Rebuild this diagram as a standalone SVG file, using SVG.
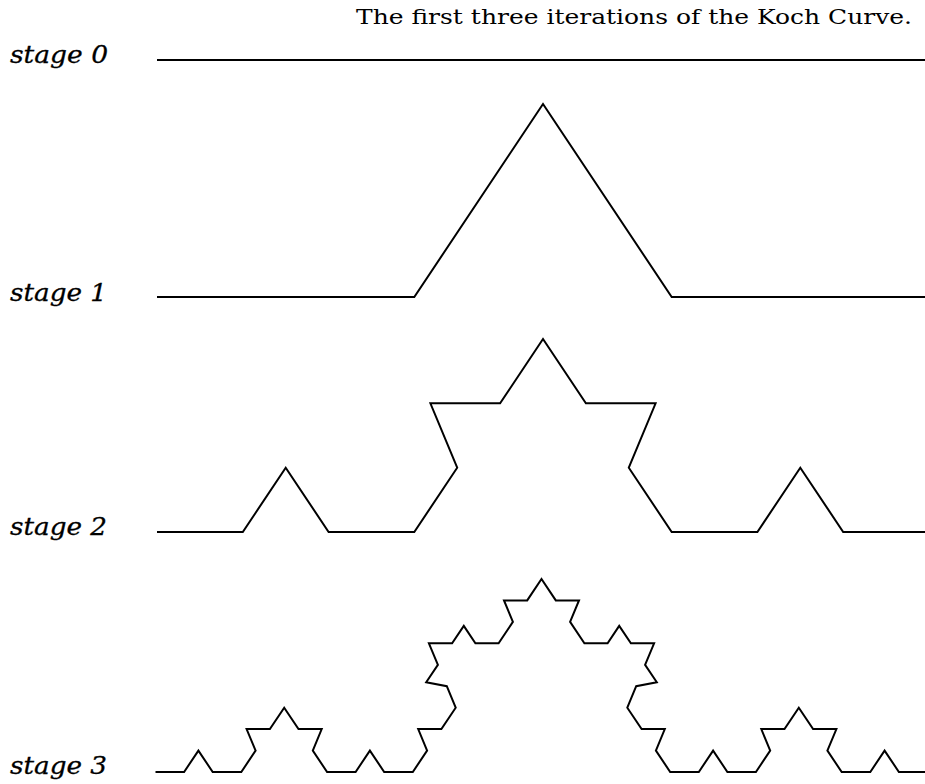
<svg xmlns="http://www.w3.org/2000/svg" width="925" height="784" viewBox="0 0 925 784">
<style>
.lbl{font-family:"DejaVu Serif","Liberation Serif",serif;font-style:italic;font-size:25px;fill:#000;stroke:#000;stroke-width:0.3}
.ttl{font-family:"DejaVu Serif","Liberation Serif",serif;font-size:21px;fill:#000}
.crv{fill:none;stroke:#000;stroke-width:2;stroke-linejoin:miter}
</style>
<rect width="925" height="784" fill="#fff"/>
<text class="ttl" x="356" y="24" textLength="556" lengthAdjust="spacingAndGlyphs">The first three iterations of the Koch Curve.</text>
<g id="stage0">
<text class="lbl" x="10" y="63" textLength="98" lengthAdjust="spacingAndGlyphs">stage 0</text>
<polyline class="crv" points="157,60 929,60"/>
</g>
<g id="stage1">
<text class="lbl" x="10" y="301" textLength="97" lengthAdjust="spacingAndGlyphs">stage 1</text>
<polyline class="crv" points="157,297 414.3,297 543,104 671.7,297 929,297"/>
</g>
<g id="stage2">
<text class="lbl" x="10" y="535" textLength="97" lengthAdjust="spacingAndGlyphs">stage 2</text>
<polyline class="crv" points="157,532 242.8,532 285.7,467.7 328.6,532 414.3,532 457.2,467.7 430.4,403.3 500.1,403.3 543,339 585.9,403.3 655.6,403.3 628.8,467.7 671.7,532 757.4,532 800.3,467.7 843.2,532 929,532"/>
</g>
<g id="stage3">
<text class="lbl" x="10" y="774" textLength="97" lengthAdjust="spacingAndGlyphs">stage 3</text>
<polyline class="crv" transform="translate(-1.5,0)" points="157,772 185.6,772 199.9,750.6 214.2,772 242.8,772 257.1,750.6 248.1,729.1 271.4,729.1 285.7,707.7 300,729.1 323.2,729.1 314.3,750.6 328.6,772 357.1,772 371.4,750.6 385.7,772 414.3,772 428.6,750.6 419.7,729.1 442.9,729.1 457.2,707.7 448.3,686.2 427.7,682.2 439.4,664.8 430.4,643.3 453.6,643.3 465.3,625.9 476.9,643.3 500.1,643.3 514.4,621.9 505.5,600.4 528.7,600.4 543,579 557.3,600.4 580.5,600.4 571.6,621.9 585.9,643.3 609.1,643.3 620.7,625.9 632.4,643.3 655.6,643.3 646.6,664.8 658.3,682.2 637.7,686.2 628.8,707.7 643.1,729.1 666.3,729.1 657.4,750.6 671.7,772 700.3,772 714.6,750.6 728.9,772 757.4,772 771.7,750.6 762.8,729.1 786,729.1 800.3,707.7 814.6,729.1 837.9,729.1 828.9,750.6 843.2,772 871.8,772 886.1,750.6 900.4,772 929,772"/>
</g>
</svg>
